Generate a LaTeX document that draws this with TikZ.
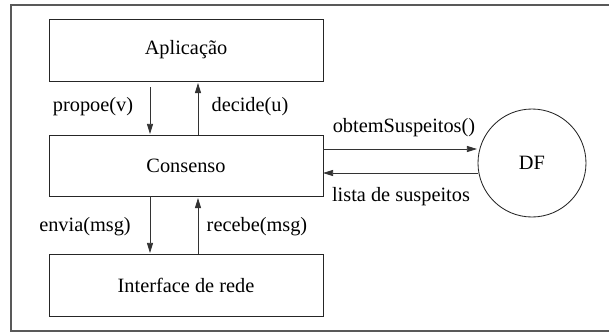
\documentclass[tikz,border=0pt]{standalone}
\usepackage{fontspec}
\setmainfont{Liberation Serif}
\usetikzlibrary{arrows.meta}
\begin{document}
\begin{tikzpicture}[x=0.59pt,y=-0.59pt,
  layer/.style={draw=black!85,line width=0.5pt},
  flow/.style={draw=black!80,line width=0.5pt,-{Triangle[length=6pt,width=3.6pt]}},
  lbl/.style={font=\fontsize{12}{14}\selectfont,inner sep=0pt},
  txt/.style={font=\fontsize{12}{14}\selectfont}]
\useasboundingbox (0,0) rectangle (609,332);
% outer frame (right side runs past the page)
\draw[black!65,line width=1pt] (640,5) -- (11,5) -- (11,331) -- (640,331);
% layers
\draw[layer] (49,19) rectangle (323,81);
\node[txt] (apl) at (186,50) {Aplicação};
\draw[layer] (49,135) rectangle (323,196);
\node[txt] (cons) at (186,165.5) {Consenso};
\draw[layer] (49,254) rectangle (323,316);
\node[txt] (rede) at (186,285) {Interface de rede};
% failure detector
\draw[layer] (532,163) circle (54);
\node[txt] (df) at (532,163) {DF};
% named anchors for the connectors
\coordinate (a1) at (150,87);  \coordinate (c1) at (150,134);
\coordinate (c2) at (198,135); \coordinate (a2) at (198,83);
\coordinate (c3) at (150,196); \coordinate (r1) at (150,253);
\coordinate (r2) at (198,254); \coordinate (c4) at (198,198);
\coordinate (c5) at (323,149); \coordinate (d1) at (477,149);
\coordinate (d2) at (478,173); \coordinate (c6) at (323,173);
\draw[flow] (a1) -- (c1);
\draw[flow] (c2) -- (a2);
\draw[flow] (c3) -- (r1);
\draw[flow] (r2) -- (c4);
\draw[flow] (c5) -- (d1);
\draw[flow] (d2) -- (c6);
% labels
\node[txt] (l1) at (93,107) {propoe(v)};
\node[txt] (l2) at (250,107) {decide(u)};
\node[txt] (l3) at (85,227) {envia(msg)};
\node[txt] (l4) at (257,227) {recebe(msg)};
\node[txt] (l5) at (404,128) {obtemSuspeitos()};
\node[txt] (l6) at (401,197) {lista de suspeitos};
\end{tikzpicture}
\end{document}
